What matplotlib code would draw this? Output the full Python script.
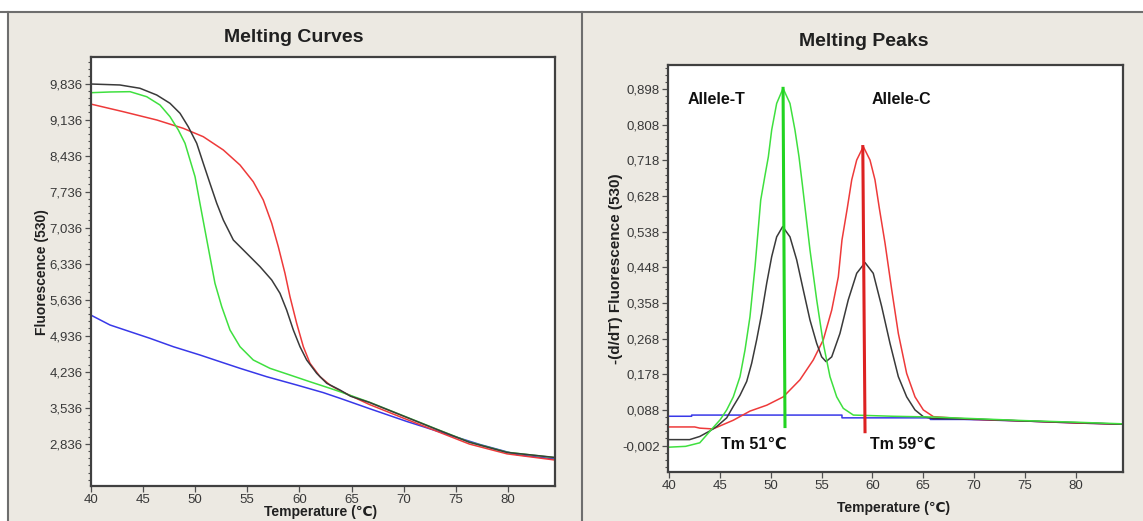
import matplotlib
matplotlib.use("Agg")
import matplotlib.pyplot as plt
from matplotlib.ticker import FixedLocator, FixedFormatter, MultipleLocator
from matplotlib.lines import Line2D
from matplotlib.patches import Rectangle

# ---------------- data: Melting Curves ----------------
curve_black_t = [40.0, 42.8, 44.72, 46.33, 47.6, 48.56, 49.35, 50.16, 50.79, 51.43, 52.08, 52.71,
                 53.67, 54.95, 56.23, 57.35, 58.14, 58.78, 59.42, 60.06, 60.7, 61.66, 62.62, 63.89,
                 64.9, 66.7, 69.9, 73.1, 76.3, 79.9, 84.5]
curve_black_f = [9827, 9808, 9744, 9613, 9452, 9258, 8997, 8675, 8286, 7897, 7509, 7184,
                 6796, 6537, 6277, 6018, 5760, 5435, 5047, 4722, 4464, 4205, 4011, 3881,
                 3760, 3640, 3380, 3120, 2865, 2668, 2570]

curve_green_t = [40.0, 41.85, 43.77, 45.37, 46.64, 47.6, 48.4, 49.04, 49.52, 50.0, 50.47, 50.95,
                 51.43, 51.91, 52.56, 53.35, 54.31, 55.58, 57.18, 59.1, 61.0, 62.93, 63.89,
                 66.7, 69.9, 73.1, 76.3, 79.9, 84.5]
curve_green_f = [9658, 9672, 9678, 9580, 9419, 9192, 8933, 8675, 8350, 8026, 7509, 6990,
                 6471, 5954, 5499, 5047, 4722, 4464, 4302, 4172, 4042, 3914, 3848,
                 3645, 3385, 3125, 2870, 2672, 2565]

curve_red_t = [40.0, 43.12, 46.33, 48.87, 50.79, 52.71, 54.31, 55.58, 56.54, 57.35, 57.98, 58.62,
               59.1, 59.74, 60.38, 61.02, 61.98, 62.93, 63.89, 66.7, 69.9, 73.1, 76.3, 79.9, 84.5]
curve_red_f = [9438, 9289, 9128, 8966, 8803, 8545, 8253, 7928, 7573, 7120, 6665, 6149,
               5694, 5177, 4722, 4399, 4139, 3978, 3867, 3600, 3340, 3085, 2830, 2640, 2520]

curve_blue_t = [40.0, 41.85, 43.77, 45.68, 47.92, 50.47, 52.39, 54.31, 56.87, 59.74, 62.29, 63.89,
                66.7, 70.3, 73.8, 77.4, 80.9, 84.5]
curve_blue_f = [5338, 5144, 5014, 4885, 4722, 4561, 4431, 4302, 4139, 3978, 3830, 3720,
                3520, 3269, 3043, 2816, 2623, 2540]

curves_yticks = [2836, 3536, 4236, 4936, 5636, 6336, 7036, 7736, 8436, 9136, 9836]
curves_ylabels = ["2,836", "3,536", "4,236", "4,936", "5,636", "6,336", "7,036", "7,736", "8,436",
                  "9,136", "9,836"]

# ---------------- data: Melting Peaks ----------------
peak_green_t = [40.0, 41.6, 43.0, 44.3, 45.0, 45.65, 46.3, 46.96, 47.45, 47.94, 48.44, 49.0, 49.42,
                49.75, 50.08, 50.57, 51.2, 51.88, 52.37, 52.77, 53.1, 53.85, 54.51, 55.16, 55.82,
                56.48, 57.13, 58.12, 62.0, 66.0, 70.0, 75.0, 80.0, 84.5]
peak_green_d = [-0.006, -0.004, 0.005, 0.043, 0.063, 0.088, 0.121, 0.172, 0.239, 0.323, 0.450,
                0.618, 0.680, 0.727, 0.795, 0.862, 0.900, 0.862, 0.795, 0.727, 0.657, 0.492,
                0.366, 0.256, 0.172, 0.121, 0.092, 0.075, 0.072, 0.070, 0.066, 0.061, 0.057, 0.053]

peak_black_t = [40.0, 42.0, 43.0, 44.0, 44.66, 45.65, 46.3, 46.96, 47.62, 48.11, 48.6, 49.1, 49.59,
                50.08, 50.57, 51.16, 51.88, 52.54, 53.19, 53.85, 54.51, 55.0, 55.43, 55.99, 56.8,
                57.62, 58.45, 59.27, 60.08, 60.91, 61.73, 62.55, 63.37, 64.19, 65.01, 66.0, 70.0,
                75.0, 80.0, 84.5]
peak_black_d = [0.013, 0.013, 0.021, 0.035, 0.046, 0.068, 0.097, 0.125, 0.160, 0.206, 0.265, 0.332,
                0.408, 0.475, 0.525, 0.551, 0.525, 0.467, 0.391, 0.315, 0.256, 0.222, 0.210,
                0.222, 0.281, 0.366, 0.433, 0.460, 0.433, 0.349, 0.256, 0.172, 0.121, 0.088,
                0.071, 0.066, 0.065, 0.060, 0.056, 0.052]

peak_red_t = [40.0, 42.5, 43.0, 44.3, 46.3, 47.94, 49.6, 51.22, 52.86, 54.17, 55.16, 55.99, 56.64,
              57.0, 57.52, 57.96, 58.45, 59.1, 59.76, 60.25, 60.68, 61.24, 61.9, 62.55, 63.37,
              64.19, 65.01, 66.0, 70.0, 75.0, 80.0, 84.5]
peak_red_d = [0.045, 0.045, 0.042, 0.040, 0.062, 0.085, 0.100, 0.121, 0.164, 0.214, 0.265, 0.340,
              0.424, 0.517, 0.597, 0.669, 0.719, 0.753, 0.719, 0.669, 0.597, 0.509, 0.391, 0.281,
              0.180, 0.121, 0.088, 0.071, 0.064, 0.060, 0.055, 0.052]

peak_blue_t = [40.0, 42.2, 42.2, 57.0, 57.0, 65.7, 65.7, 69.0, 75.0, 80.0, 84.5]
peak_blue_d = [0.072, 0.072, 0.075, 0.075, 0.068, 0.068, 0.064, 0.064, 0.060, 0.055, 0.052]

peaks_yticks = [-0.002, 0.088, 0.178, 0.268, 0.358, 0.448, 0.538, 0.628, 0.718, 0.808, 0.898]
peaks_ylabels = ["-0,002", "0,088", "0,178", "0,268", "0,358", "0,448", "0,538", "0,628", "0,718",
                 "0,808", "0,898"]

x_ticks = [40, 45, 50, 55, 60, 65, 70, 75, 80]
x_ticklabels = ["40", "45", "50", "55", "60", "65", "70", "75", "80"]

tm_green_t = [51.2, 51.39]
tm_green_d = [0.900, 0.046]
tm_red_t = [59.05, 59.27]
tm_red_d = [0.753, 0.033]

annotations = [("Allele-T", 44.6, 0.873), ("Allele-C", 62.9, 0.873),
               ("Tm 51\u2103", 48.3, 0.000), ("Tm 59\u2103", 63.0, 0.000)]

# ---------------- styling ----------------
W, H = 1143, 521
BG = "#ECE9E2"
C_BLACK = "#3a3a3a"
C_GREEN = "#3fe03f"
C_RED = "#ee3a3a"
C_BLUE = "#3838e8"
TICKFONT = ["Liberation Sans", "DejaVu Sans"]
BOLDFONT = ["Liberation Sans", "DejaVu Sans"]

fig = plt.figure(figsize=(W / 100, H / 100), dpi=100, facecolor="white")


def fx(px):
    return px / W


def fy(py):
    return 1 - py / H


# panel backgrounds and borders
fig.add_artist(Rectangle((fx(8), 0), fx(W - 8), fy(12), transform=fig.transFigure,
                         facecolor=BG, edgecolor="none", zorder=0))
fig.add_artist(Line2D([0, 1], [fy(12), fy(12)], transform=fig.transFigure, color="#6e6e6e", lw=1.5))
fig.add_artist(Line2D([fx(8), fx(8)], [0, fy(12)], transform=fig.transFigure, color="#6e6e6e", lw=1.5))
fig.add_artist(Line2D([fx(582), fx(582)], [0, fy(12)], transform=fig.transFigure, color="#6e6e6e", lw=1.5))


def make_axes(l, t, r, b):
    return fig.add_axes([fx(l), fy(b), fx(r - l), (b - t) / H])


def style_axes(ax, yticks, ylabels, minor_step, minor_offset):
    ax.set_facecolor("white")
    for s in ax.spines.values():
        s.set_color("#404040")
        s.set_linewidth(1.6)
    ax.xaxis.set_major_locator(FixedLocator(x_ticks))
    ax.xaxis.set_major_formatter(FixedFormatter(x_ticklabels))
    ax.yaxis.set_major_locator(FixedLocator(yticks))
    ax.yaxis.set_major_formatter(FixedFormatter(ylabels))
    ax.yaxis.set_minor_locator(MultipleLocator(minor_step, offset=minor_offset))
    ax.tick_params(axis="both", which="major", direction="out", length=4, width=0.9,
                   color="#505050", labelcolor="#383838", labelsize=9.5, pad=2)
    ax.tick_params(axis="y", which="minor", direction="out", length=2.5, width=0.8, color="#505050")
    for lab in ax.get_xticklabels() + ax.get_yticklabels():
        lab.set_family(TICKFONT)


# ---------------- left: Melting Curves ----------------
ax1 = make_axes(90.7, 57.3, 555, 485.7)
ax1.plot(curve_blue_t, curve_blue_f, color=C_BLUE, lw=1.1)
ax1.plot(curve_red_t, curve_red_f, color=C_RED, lw=1.1)
ax1.plot(curve_green_t, curve_green_f, color=C_GREEN, lw=1.1)
ax1.plot(curve_black_t, curve_black_f, color=C_BLACK, lw=1.1)
ax1.set_xlim(40, 84.5)
ax1.set_ylim(2021, 10346)
style_axes(ax1, curves_yticks, curves_ylabels, 140, 36)
ax1.set_ylabel("Fluorescence (530)", fontsize=10, fontweight="bold", family=BOLDFONT, color="#202020")
ax1.yaxis.set_label_coords(-0.104, 0.499)
ax1.yaxis.label.set_va("center")
ax1.set_xlabel("Temperature (\u2103)", fontsize=10, fontweight="bold", family=BOLDFONT, color="#202020")
ax1.xaxis.set_label_coords(0.494, -0.061)
ax1.xaxis.label.set_va("center")

fig.text(fx(294), fy(38), "Melting Curves", ha="center", va="center", fontsize=14,
         fontweight="bold", family=BOLDFONT, color="#202020")

# ---------------- right: Melting Peaks ----------------
ax2 = make_axes(668.3, 65, 1123.3, 471.7)
ax2.plot(peak_blue_t, peak_blue_d, color=C_BLUE, lw=1.1)
ax2.plot(peak_red_t, peak_red_d, color=C_RED, lw=1.1)
ax2.plot(peak_black_t, peak_black_d, color=C_BLACK, lw=1.1)
ax2.plot(peak_green_t, peak_green_d, color=C_GREEN, lw=1.1)
ax2.plot(tm_green_t, tm_green_d, color="#22d422", lw=2.2)
ax2.plot(tm_red_t, tm_red_d, color="#dd2222", lw=2.2)
ax2.set_xlim(39.9, 84.7)
ax2.set_ylim(-0.068, 0.959)
style_axes(ax2, peaks_yticks, peaks_ylabels, 0.018, 0.016)
ax2.set_ylabel("-(d/dT) Fluorescence (530)", fontsize=11, fontweight="bold", family=BOLDFONT,
               color="#202020")
ax2.yaxis.set_label_coords(-0.115, 0.498)
ax2.yaxis.label.set_va("center")
ax2.set_xlabel("Temperature (\u2103)", fontsize=10, fontweight="bold", family=BOLDFONT, color="#202020")
ax2.xaxis.set_label_coords(0.496, -0.089)
ax2.xaxis.label.set_va("center")

for txt, tx, ty in annotations:
    ax2.text(tx, ty, txt, ha="center", va="center", fontsize=11.5, fontweight="bold",
             family=BOLDFONT, color="#101010")

fig.text(fx(863.7), fy(42), "Melting Peaks", ha="center", va="center", fontsize=14,
         fontweight="bold", family=BOLDFONT, color="#202020")

fig.savefig("out.png", dpi=100, facecolor="white")
